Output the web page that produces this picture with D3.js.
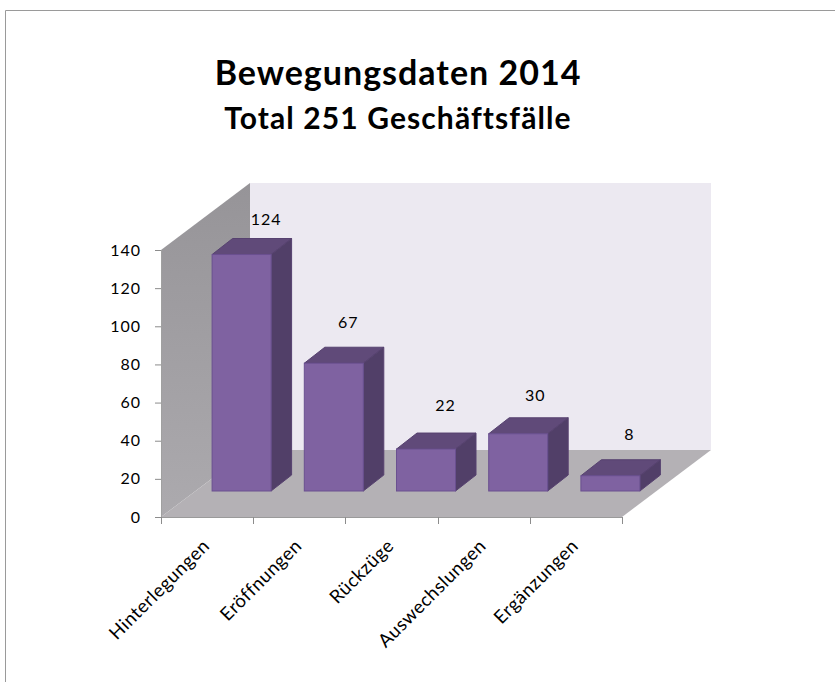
<!DOCTYPE html>
<html><head><meta charset="utf-8">
<script src="https://cdn.jsdelivr.net/npm/d3@7"></script>
<style>html,body{margin:0;padding:0;background:#fff}svg{display:block}text{font-family:Lato,"Open Sans",sans-serif;fill:#111}</style>
</head><body><svg id="c" width="835" height="682"></svg>
<script>
const categories = ["Hinterlegungen","Eröffnungen","Rückzüge","Auswechslungen","Ergänzungen"];
const values = [124,67,22,30,8];
const yTicks = [0,20,40,60,80,100,120,140];
const titleText = "Bewegungsdaten 2014";
const subtitleText = "Total 251 Geschäftsfälle";
// small hand placement of the data labels relative to each bar
const labelNudgeX = [24.5,14.5,19.5,17,19];
const labelNudgeY = [-14,-19,-22,-17,-20];

const svg = d3.select("#c");
const left=161, right=622, floorY=517, topY=250;
const wallDx=89, wallDy=-67;      // depth of the chart box
const barDx=20.5, barDy=-16;      // depth of one bar
const liftX=34.5, liftY=-26;      // bars stand inside the floor
const y = d3.scaleLinear().domain([0,140]).range([floorY,topY]);
const x = d3.scaleBand().domain(categories).range([left,right]).paddingInner(0).paddingOuter(0);
const barW = 59;
const pts = a => a.map(p=>p.join(",")).join(" ");

const defs = svg.append("defs");
const lg = defs.append("linearGradient").attr("id","wall").attr("x1",0).attr("y1",0).attr("x2",0).attr("y2",1);
lg.append("stop").attr("offset",0).attr("stop-color","#969498");
lg.append("stop").attr("offset",1).attr("stop-color","#acaaae");

// outer frame
svg.append("path").attr("d","M5.5,682V10.5H835").attr("fill","none").attr("stroke","#9a9a9a").attr("stroke-width",1);

// titles
svg.append("text").attr("x",398).attr("y",85).attr("text-anchor","middle").attr("font-size",34).attr("font-weight",700).style("letter-spacing","1px").style("fill","#000").text(titleText);
svg.append("text").attr("x",398).attr("y",129).attr("text-anchor","middle").attr("font-size",30).attr("font-weight",700).style("letter-spacing","1.1px").style("fill","#000").text(subtitleText);

// walls and floor
svg.append("polygon").attr("points",pts([[left+wallDx,y(140)+wallDy],[right+wallDx,y(140)+wallDy],[right+wallDx,y(0)+wallDy],[left+wallDx,y(0)+wallDy]])).attr("fill","#ece9f1");
svg.append("polygon").attr("points",pts([[left,y(140)],[left+wallDx,y(140)+wallDy],[left+wallDx,y(0)+wallDy],[left,y(0)]])).attr("fill","url(#wall)");
svg.append("polygon").attr("points",pts([[left,y(0)],[right,y(0)],[right+wallDx,y(0)+wallDy],[left+wallDx,y(0)+wallDy]])).attr("fill","#b4b1b5");

// axes
const ya = d3.axisLeft(y).tickValues(yTicks).tickSize(6).tickPadding(14);
const yg = svg.append("g").attr("transform",`translate(${left},0)`).call(ya);
yg.selectAll("text").attr("font-size",16).style("letter-spacing","1px").style("fill","#000");
yg.selectAll("line").attr("stroke","#8c8c8c");
yg.select(".domain").attr("stroke","#a0a0a0").attr("d",`M${0.5},${y(140)}V${y(0)}`);

const xg = svg.append("g").attr("class","xaxis");
xg.append("line").attr("x1",left).attr("x2",right).attr("y1",floorY+0.5).attr("y2",floorY+0.5).attr("stroke","#9a9a9a").attr("stroke-width",1.2);
const boundaries = categories.map(c=>x(c)).concat([x.range()[1]]);
xg.selectAll(".b").data(boundaries).join("line").attr("class","b")
  .attr("x1",d=>Math.round(d)+0.5).attr("x2",d=>Math.round(d)+0.5).attr("y1",floorY).attr("y2",floorY+7).attr("stroke","#8c8c8c");
xg.selectAll(".l").data(categories).join("text").attr("class","l")
  .attr("text-anchor","end").attr("font-size",18.5).style("letter-spacing","0.5px").style("fill","#000")
  .attr("transform",d=>`translate(${x(d)+x.bandwidth()/2+3.5},${floorY+30}) rotate(-45)`)
  .text(d=>d);

// bars
const data = categories.map((c,i)=>({c,v:values[i],i}));
const g = svg.selectAll(".bar").data(data).join("g").attr("class","bar");
const bx = d => x(d.c)+x.bandwidth()/2-barW/2+liftX;
const by0 = liftY+floorY;
const by1 = d => y(d.v)+liftY;
g.append("polygon").attr("points",d=>{const l=bx(d),r=l+barW,t=by1(d);return pts([[l,t],[r,t],[r+barDx,t+barDy],[l+barDx,t+barDy]]);})
 .attr("fill","#604a79").attr("stroke","#574270").attr("stroke-width",1);
g.append("polygon").attr("points",d=>{const r=bx(d)+barW,t=by1(d);return pts([[r,t],[r+barDx,t+barDy],[r+barDx,by0+barDy],[r,by0]]);})
 .attr("fill","#513f68").attr("stroke","#574270").attr("stroke-width",1);
g.append("rect").attr("x",bx).attr("y",by1).attr("width",barW).attr("height",d=>by0-by1(d))
 .attr("fill","#7f62a1").attr("stroke","#6a5090").attr("stroke-width",1);

// data labels
svg.selectAll(".v").data(data).join("text").attr("class","v")
  .attr("text-anchor","middle").attr("font-size",16).style("letter-spacing","1px").style("fill","#000")
  .attr("x",d=>bx(d)+barW/2+labelNudgeX[d.i])
  .attr("y",d=>by1(d)+barDy+labelNudgeY[d.i])
  .text(d=>d.v);
</script></body></html>
